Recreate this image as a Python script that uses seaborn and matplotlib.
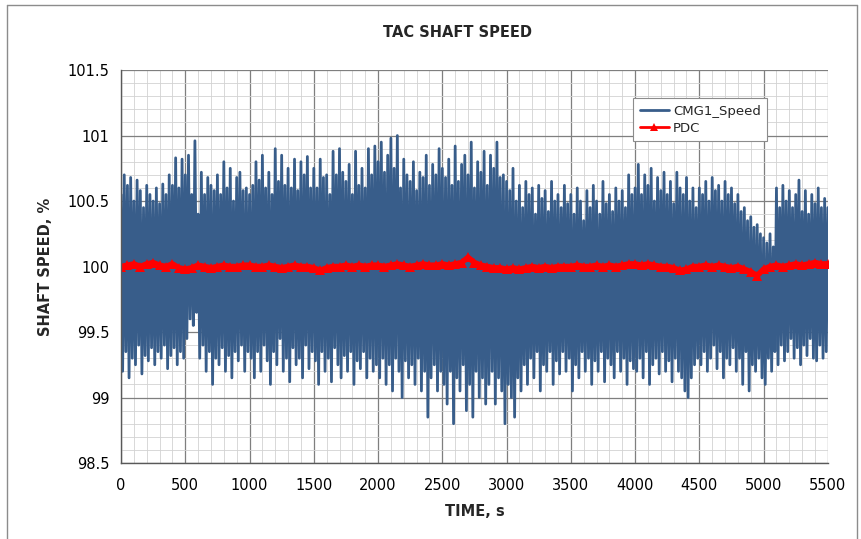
import numpy as np
import pandas as pd
import matplotlib
matplotlib.use("Agg")
import matplotlib.pyplot as plt
from matplotlib.ticker import MultipleLocator
from matplotlib.lines import Line2D
import seaborn as sns

# ---------------- data ----------------
# CMG1_Speed: local peaks every 25 s (t = 0 .. 5500)
cmg_peak_times = list(range(0, 5501, 25))
cmg_peaks = [
    100.55, 100.70, 100.62, 100.68, 100.50, 100.66, 100.58, 100.45, 100.62, 100.55,
    100.50, 100.60, 100.48, 100.63, 100.55, 100.70, 100.62, 100.83, 100.60, 100.82,
    100.70, 100.85, 100.55, 100.96, 100.40, 100.72, 100.55, 100.68, 100.62, 100.58,
    100.70, 100.55, 100.80, 100.60, 100.75, 100.50, 100.68, 100.72, 100.58, 100.60,
    100.55, 100.62, 100.80, 100.66, 100.85, 100.60, 100.72, 100.55, 100.90, 100.65,
    100.85, 100.62, 100.75, 100.60, 100.82, 100.58, 100.80, 100.70, 100.84, 100.60,
    100.75, 100.60, 100.82, 100.68, 100.70, 100.55, 100.88, 100.70, 100.90, 100.72,
    100.65, 100.78, 100.55, 100.88, 100.62, 100.75, 100.60, 100.90, 100.70, 100.92,
    100.80, 100.95, 100.72, 100.85, 100.98, 100.75, 101.00, 100.60, 100.82, 100.70,
    100.65, 100.80, 100.58, 100.72, 100.68, 100.85, 100.62, 100.78, 100.70, 100.90,
    100.75, 100.68, 100.82, 100.62, 100.92, 100.65, 100.78, 100.85, 100.70, 100.95,
    100.60, 100.80, 100.72, 100.88, 100.62, 100.85, 100.75, 100.95, 100.68, 100.70,
    100.65, 100.58, 100.75, 100.50, 100.62, 100.45, 100.65, 100.55, 100.60, 100.40,
    100.62, 100.52, 100.58, 100.42, 100.65, 100.50, 100.55, 100.45, 100.62, 100.48,
    100.55, 100.40, 100.60, 100.50, 100.35, 100.58, 100.45, 100.62, 100.50, 100.40,
    100.65, 100.48, 100.55, 100.42, 100.60, 100.50, 100.58, 100.45, 100.70, 100.55,
    100.60, 100.78, 100.55, 100.70, 100.62, 100.75, 100.50, 100.68, 100.58, 100.72,
    100.55, 100.65, 100.48, 100.72, 100.60, 100.55, 100.68, 100.50, 100.60, 100.45,
    100.60, 100.55, 100.65, 100.50, 100.68, 100.58, 100.62, 100.50, 100.65, 100.55,
    100.60, 100.48, 100.55, 100.42, 100.45, 100.35, 100.38, 100.30, 100.32, 100.25,
    100.22, 100.18, 100.25, 100.15, 100.60, 100.45, 100.62, 100.50, 100.58, 100.45,
    100.55, 100.66, 100.42, 100.58, 100.40, 100.55, 100.48, 100.60, 100.45, 100.52,
    100.45,
]
# CMG1_Speed: local troughs every 25 s (t = 12.5 .. 5487.5)
cmg_trough_times = [12.5 + 25 * k for k in range(220)]
cmg_troughs = [
    99.20, 99.35, 99.15, 99.30, 99.25, 99.40, 99.18, 99.32, 99.28, 99.38,
    99.25, 99.35, 99.30, 99.40, 99.22, 99.32, 99.38, 99.25, 99.35, 99.30,
    99.45, 99.60, 99.55, 99.65, 99.30, 99.40, 99.20, 99.35, 99.10, 99.30,
    99.25, 99.38, 99.20, 99.32, 99.15, 99.35, 99.28, 99.40, 99.20, 99.35,
    99.30, 99.15, 99.35, 99.20, 99.40, 99.28, 99.10, 99.35, 99.25, 99.45,
    99.20, 99.30, 99.12, 99.38, 99.25, 99.30, 99.15, 99.40, 99.22, 99.35,
    99.28, 99.10, 99.35, 99.20, 99.30, 99.12, 99.38, 99.25, 99.15, 99.32,
    99.20, 99.35, 99.10, 99.28, 99.22, 99.35, 99.15, 99.30, 99.20, 99.25,
    99.15, 99.30, 99.10, 99.25, 99.05, 99.30, 99.20, 99.00, 99.28, 99.15,
    99.25, 99.10, 99.30, 99.05, 99.20, 98.85, 99.15, 99.25, 99.05, 99.20,
    99.10, 98.95, 99.20, 98.80, 99.15, 99.05, 99.25, 98.90, 99.10, 98.85,
    99.20, 99.00, 99.15, 98.95, 99.10, 99.20, 98.95, 99.15, 99.05, 98.80,
    99.10, 99.00, 98.85, 99.15, 99.05, 99.25, 99.10, 99.30, 99.15, 99.35,
    99.05, 99.25, 99.20, 99.35, 99.10, 99.28, 99.18, 99.35, 99.20, 99.30,
    99.05, 99.25, 99.15, 99.35, 99.20, 99.30, 99.10, 99.28, 99.20, 99.35,
    99.12, 99.30, 99.25, 99.15, 99.35, 99.20, 99.30, 99.10, 99.28, 99.22,
    99.20, 99.30, 99.15, 99.35, 99.10, 99.25, 99.30, 99.18, 99.35, 99.20,
    99.28, 99.12, 99.30, 99.20, 99.15, 99.05, 99.00, 99.15, 99.25, 99.30,
    99.25, 99.35, 99.20, 99.30, 99.40, 99.22, 99.35, 99.15, 99.30, 99.25,
    99.38, 99.20, 99.30, 99.10, 99.35, 99.05, 99.25, 99.20, 99.30, 99.15,
    99.10, 99.30, 99.20, 99.35, 99.25, 99.40, 99.28, 99.35, 99.45, 99.30,
    99.38, 99.25, 99.40, 99.32, 99.45, 99.30, 99.28, 99.40, 99.30, 99.35,
]
# PDC: every 50 s
pdc_times = list(range(0, 5501, 50))
pdc_values = [
    100.00, 100.01, 100.02, 100.00, 100.02, 100.03, 100.01, 100.00, 100.02, 99.99,
    99.98, 99.99, 100.01, 100.00, 99.99, 100.00, 100.01, 100.00, 100.00, 100.01,
    100.01, 100.00, 100.00, 100.01, 100.00, 99.99, 100.00, 100.01, 100.00, 100.00,
    99.99, 99.97, 99.99, 100.00, 100.00, 100.01, 100.00, 100.01, 100.00, 100.01,
    100.01, 100.00, 100.01, 100.02, 100.01, 100.00, 100.01, 100.02, 100.01, 100.01,
    100.02, 100.01, 100.02, 100.03, 100.07, 100.03, 100.01, 100.00, 99.99, 99.99,
    99.98, 99.99, 99.98, 99.99, 100.00, 99.99, 100.00, 99.99, 100.00, 100.00,
    100.00, 100.01, 100.00, 100.00, 100.01, 100.00, 100.01, 100.00, 100.01, 100.02,
    100.02, 100.01, 100.02, 100.01, 100.00, 100.00, 99.99, 99.97, 99.98, 100.00,
    100.00, 100.01, 100.00, 100.01, 100.00, 99.99, 100.00, 99.98, 99.96, 99.93,
    99.98, 100.00, 100.01, 100.00, 100.01, 100.02, 100.01, 100.02, 100.03, 100.02,
    100.02,
]
x_ticks = list(range(0, 5501, 500))
y_ticks = [98.5, 99.0, 99.5, 100.0, 100.5, 101.0, 101.5]
y_tick_labels = ["98.5", "99", "99.5", "100", "100.5", "101", "101.5"]

# ---------------- build tables ----------------
cmg = pd.DataFrame({"t": cmg_peak_times + cmg_trough_times,
                    "v": cmg_peaks + cmg_troughs}).sort_values("t")
pdc = pd.DataFrame({"t": pdc_times, "v": pdc_values})

sns.set_theme(style="white")
plt.rcParams["font.family"] = ["DejaVu Sans"]

BLUE = "#385D8A"
RED = "#FF0000"

fig = plt.figure(figsize=(8.62, 5.39), dpi=100)
ax = fig.add_axes([0.1404, 0.141, 0.820, 0.729])

sns.lineplot(data=cmg, x="t", y="v", ax=ax, color=BLUE, linewidth=2.0,
             estimator=None, sort=False, legend=False)
sns.lineplot(data=pdc, x="t", y="v", ax=ax, color=RED, linewidth=4,
             marker="^", markersize=7, markeredgewidth=0,
             estimator=None, legend=False)

ax.set_xlim(0, 5500)
ax.set_ylim(98.5, 101.5)
ax.set_xticks(x_ticks)
ax.set_xticklabels([str(v) for v in x_ticks])
ax.set_yticks(y_ticks)
ax.set_yticklabels(y_tick_labels)
ax.xaxis.set_minor_locator(MultipleLocator(100))
ax.yaxis.set_minor_locator(MultipleLocator(0.1))

ax.grid(True, which="major", color="#7f7f7f", linewidth=0.9)
ax.grid(True, which="minor", color="#d2d2d2", linewidth=0.6)
ax.set_axisbelow(True)

for side in ["top", "right"]:
    ax.spines[side].set_visible(False)
for side in ["left", "bottom"]:
    ax.spines[side].set_color("#595959")
    ax.spines[side].set_linewidth(1.0)

ax.tick_params(axis="both", which="major", direction="out", length=5,
               width=0.9, color="#595959", labelsize=10.5, labelcolor="#000000")
ax.tick_params(axis="both", which="minor", length=0)
ax.tick_params(axis="x", pad=6)

ax.set_xlabel("TIME, s", fontsize=10.5, fontweight="bold", labelpad=8)
ax.set_ylabel("SHAFT SPEED, %", fontsize=10.5, fontweight="bold", labelpad=10)

fig.text(0.531, 0.94, "TAC SHAFT SPEED", ha="center", va="center",
         fontsize=10.5, fontweight="bold")

handles = [Line2D([], [], color=BLUE, linewidth=2),
           Line2D([], [], color=RED, linewidth=2, marker="^", markersize=6,
                  markeredgewidth=0)]
leg = ax.legend(handles, ["CMG1_Speed", "PDC"], loc="upper left",
                bbox_to_anchor=(0.727, 0.83), bbox_transform=fig.transFigure,
                fontsize=9.5, frameon=True, fancybox=False, framealpha=1,
                edgecolor="#8c8c8c", handlelength=2.2, handletextpad=0.3,
                borderpad=0.5, labelspacing=0.3)
leg.get_frame().set_linewidth(0.8)

# outer chart border
fig.add_artist(Line2D([7 / 862, 7 / 862], [0, 1 - 5 / 539],
                      transform=fig.transFigure, color="#8c8c8c", linewidth=1))
fig.add_artist(Line2D([7 / 862, 857 / 862], [1 - 5 / 539, 1 - 5 / 539],
                      transform=fig.transFigure, color="#8c8c8c", linewidth=1))
fig.add_artist(Line2D([857 / 862, 857 / 862], [0, 1 - 5 / 539],
                      transform=fig.transFigure, color="#8c8c8c", linewidth=1))

fig.savefig("out.png", dpi=100)
